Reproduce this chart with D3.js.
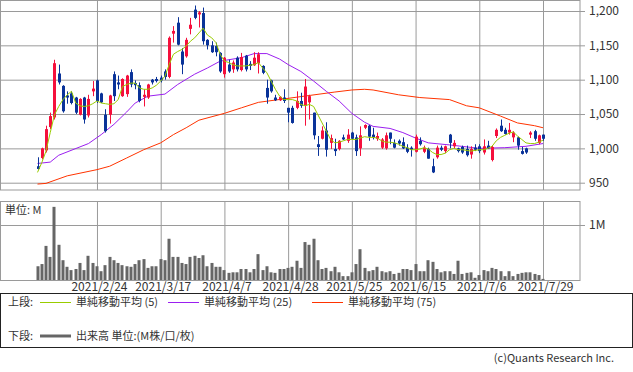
<!DOCTYPE html>
<html>
<head>
<meta charset="utf-8">
<title>chart</title>
<style>
body{margin:0;background:#fff;}
svg{display:block;}
text{font-family:"Noto Sans CJK JP","Liberation Sans",sans-serif;fill:#333;}
</style>
</head>
<body>
<svg id="chart" width="633" height="372"></svg>
<script src="https://cdnjs.cloudflare.com/ajax/libs/d3/7.8.5/d3.min.js"></script>
<script>
// x axis: bar index 0..119 (2021/2/2 - 2021/7/29), labels every 15 bars
var tickIdx = [14, 29, 44, 59, 74, 89, 104, 119];
var tickLabels = ["2021/2/24","2021/3/17","2021/4/7","2021/4/28","2021/5/25","2021/6/15","2021/7/6","2021/7/29"];
var priceTicks = [950, 1000, 1050, 1100, 1150, 1200];

var open  = [974,986,997,1031,1045,1109,1091,1077,1080,1074,1049,1074,1048,1083,1099,1080,1049,1049,1108,1096,
             1076,1079,1111,1095,1092,1075,1074,1100,1101,1103,1112,1104,1167,1183,1141,1134,1174,1202,1195,1197,
             1158,1150,1149,1139,1108,1122,1115,1132,1114,1135,1123,1121,1124,1120,1088,1099,1074,1070,1074,1059,
             1059,1059,1069,1062,1067,1052,1006,1014,1026,1008,999,999,1016,1011,1023,1016,1000,1030,1033,1020,
             1014,1001,1000,1023,1008,1011,1009,1001,1001,995,1011,995,999,974,987,1001,996,1020,1003,1000,
             1002,999,991,1001,1003,994,1004,983,1018,1033,1027,1023,1016,1016,996,1000,1020,1025,1008,1020];
var high  = [987,1001,1033,1052,1129,1122,1092,1083,1083,1075,1073,1075,1078,1098,1100,1081,1057,1078,1112,1106,
             1102,1107,1115,1099,1096,1086,1094,1101,1104,1106,1115,1163,1178,1191,1146,1161,1190,1208,1200,1205,
             1159,1156,1154,1140,1133,1129,1128,1134,1139,1136,1127,1140,1140,1121,1100,1100,1078,1076,1086,1059,
             1062,1083,1081,1101,1078,1052,1018,1032,1038,1020,1014,1012,1020,1028,1024,1020,1032,1035,1034,1030,
             1023,1015,1023,1023,1013,1013,1016,1006,1003,1020,1016,1004,1001,985,1004,1004,1004,1021,1012,1001,
             1004,1004,1003,1006,1006,1013,1011,1004,1029,1042,1030,1037,1025,1017,1002,1001,1025,1027,1020,1020];
var low   = [969,984,994,1028,1042,1093,1052,1065,1064,1050,1048,1036,1045,1076,1066,1066,1023,1036,1069,1086,
             1075,1075,1089,1086,1067,1061,1072,1093,1096,1096,1100,1102,1154,1150,1108,1132,1166,1188,1176,1151,
             1144,1139,1134,1110,1103,1110,1110,1112,1112,1112,1114,1120,1109,1108,1065,1081,1069,1069,1066,1038,
             1036,1057,1059,1033,1042,1013,989,1013,988,999,989,997,1012,1008,1013,989,989,1028,1011,1013,
             1011,999,998,1006,1000,1004,999,993,988,994,1004,993,985,964,985,996,993,1000,1000,994,
             992,988,985,996,993,991,999,981,1015,1024,1020,1020,1009,998,991,992,1015,1011,1006,1011];
var close = [970,1000,1028,1047,1124,1096,1054,1074,1066,1052,1072,1042,1072,1087,1069,1067,1025,1077,1076,1093,
             1101,1106,1093,1092,1069,1078,1093,1096,1098,1099,1104,1161,1171,1151,1122,1158,1180,1190,1198,1156,
             1150,1140,1140,1112,1132,1112,1125,1115,1133,1115,1120,1132,1137,1110,1074,1083,1070,1075,1069,1052,
             1037,1069,1062,1090,1076,1019,1002,1026,998,1015,996,1011,1013,1020,1014,996,1019,1034,1017,1016,
             1018,1013,1019,1014,1001,1007,1000,995,998,1017,1006,1001,985,965,1001,998,1003,1008,1008,996,
             994,990,999,998,996,1003,1000,1002,1027,1025,1021,1027,1023,1004,992,994,1023,1014,1019,1014];
// volume, millions
var volume = [0.25,0.29,0.62,0.42,1.33,0.64,0.36,0.24,0.18,0.20,0.31,0.18,0.44,0.31,0.25,0.16,0.27,0.42,0.36,0.31,
              0.27,0.25,0.24,0.29,0.36,0.38,0.22,0.25,0.25,0.38,0.36,0.75,0.42,0.42,0.31,0.29,0.42,0.44,0.40,0.45,
              0.25,0.31,0.24,0.24,0.18,0.13,0.14,0.14,0.20,0.20,0.14,0.20,0.47,0.18,0.25,0.14,0.13,0.20,0.20,0.22,
              0.24,0.35,0.22,0.69,0.64,0.75,0.36,0.20,0.22,0.16,0.24,0.14,0.07,0.07,0.14,0.29,0.56,0.22,0.16,0.18,
              0.24,0.16,0.14,0.16,0.11,0.13,0.20,0.20,0.18,0.29,0.16,0.16,0.36,0.33,0.20,0.14,0.16,0.16,0.11,0.35,
              0.11,0.13,0.14,0.04,0.09,0.18,0.16,0.22,0.20,0.16,0.07,0.16,0.07,0.11,0.13,0.14,0.14,0.11,0.09,0.02];
var ma5 = [965,979,996,1023,1049,1061,1071,1078,1083,1066,1062,1061,1062,1065,1069,1066,1065,1064,1065,1071,
           1090,1093,1095,1095,1088,1086,1086,1088,1092,1098,1105,1122,1137,1141,1144,1149,1156,1161,1168,1175,
           1165,1161,1154,1137,1127,1125,1122,1120,1120,1120,1121,1122,1125,1117,1110,1098,1086,1076,1071,1071,
           1071,1069,1064,1062,1064,1061,1049,1037,1025,1013,1008,1009,1011,1013,1013,1013,1015,1017,1016,1016,
           1015,1011,1009,1009,1008,1006,1003,1001,998,998,999,1001,999,994,991,991,993,998,1000,998,
           998,997,996,997,998,998,1000,1003,1011,1016,1019,1022,1024,1018,1013,1008,1007,1007,1009,1012];
var ma25Idx = [0,3,5,12,15,18,21,23,26,30,33,37,40,43,48,51,54,57,59,62,65,68,71,74,77,79,83,86,89,92,97,104,110,115,119];
var ma25Val = [978,980,990,1007,1020,1035,1053,1066,1076,1079,1093,1108,1117,1127,1132,1138,1138,1130,1122,1112,
               1098,1083,1069,1051,1038,1032,1029,1023,1015,1008,1005,1000,1001,1003,1007];
var ma75Idx = [0,2,7,14,17,21,25,29,32,35,38,44,48,52,58,64,70,74,77,79,85,90,97,101,104,109,113,117,119];
var ma75Val = [948,949,960,969,974,986,998,1008,1020,1030,1041,1051,1059,1067,1072,1077,1082,1085,1086,1085,
               1078,1074,1071,1062,1059,1047,1037,1033,1030];

var upColor = "#f5103c", downColor = "#0a3399", gridColor = "#9a9a9a";
var plotR = 580, pTop = 0, pBot = 190, vTop = 201, vBot = 280;

var svg = d3.select("#chart");
var x = d3.scaleLinear().domain([0, 119]).range([37.5, 543]);
var y = d3.scaleLinear().domain([950, 1200]).range([182.7, 11]);
var v = d3.scaleLinear().domain([0, 1]).range([vBot, 225]);

function clean(g){ g.select(".domain").remove(); g.selectAll("line").attr("stroke", gridColor); }

// grid, price panel
svg.append("g").attr("transform","translate("+plotR+",0)")
  .call(d3.axisLeft(y).tickValues(priceTicks).tickSize(plotR).tickFormat(""))
  .call(clean);
svg.append("g").attr("transform","translate(0,"+pTop+")")
  .call(d3.axisBottom(x).tickValues(tickIdx).tickSize(pBot - pTop).tickFormat(""))
  .call(clean);
svg.append("rect").attr("x",0.5).attr("y",0.5).attr("width",plotR-0.5).attr("height",pBot-0.5)
  .attr("fill","none").attr("stroke",gridColor);
svg.append("g").attr("transform","translate("+plotR+",0)")
  .call(d3.axisRight(y).tickValues(priceTicks).tickSize(5).tickPadding(4).tickFormat(d3.format(",")))
  .call(clean)
  .selectAll("text").style("font-size","12px").attr("fill","#333");

// grid, volume panel
svg.append("g").attr("transform","translate("+plotR+",0)")
  .call(d3.axisLeft(v).tickValues([1]).tickSize(plotR).tickFormat(""))
  .call(clean);
svg.append("g").attr("transform","translate(0,"+vTop+")")
  .call(d3.axisBottom(x).tickValues(tickIdx).tickSize(vBot - vTop).tickFormat(""))
  .call(clean);
svg.append("rect").attr("x",0.5).attr("y",vTop+0.5).attr("width",plotR-0.5).attr("height",vBot-vTop)
  .attr("fill","none").attr("stroke",gridColor);
svg.append("g").attr("transform","translate("+plotR+",0)")
  .call(d3.axisRight(v).tickValues([1]).tickSize(5).tickPadding(4).tickFormat(function(){ return "1M"; }))
  .call(clean)
  .selectAll("text").style("font-size","12px").attr("fill","#333");
svg.append("text").attr("x",5).attr("y",214).style("font-size","11px").text("単位: M");

// date labels
svg.append("g").attr("transform","translate(2,"+vBot+")")
  .call(d3.axisBottom(x).tickValues(tickIdx).tickSize(0).tickPadding(2).tickFormat(function(d,i){ return tickLabels[i]; }))
  .call(clean)
  .selectAll("text").style("font-size","12px").attr("fill","#333");

// volume bars
svg.append("g").selectAll("rect").data(volume).join("rect")
  .attr("x", function(d,i){ return Math.round(x(i)) - 1.5; })
  .attr("y", function(d){ return v(d); })
  .attr("width", 3)
  .attr("height", function(d){ return vBot - v(d); })
  .attr("fill", "#666");

// moving averages
var ma25 = ma25Idx.map(function(d,i){ return [d, ma25Val[i]]; });
var ma75 = ma75Idx.map(function(d,i){ return [d, ma75Val[i]]; });
var line = d3.line().x(function(d){ return x(d[0]); }).y(function(d){ return y(d[1]); });
svg.append("path").datum(ma75).attr("d", line).attr("fill","none").attr("stroke","#ff3300").attr("stroke-width",1);
svg.append("path").datum(ma25).attr("d", line).attr("fill","none").attr("stroke","#9b1ff0").attr("stroke-width",1);

// candles
var candles = svg.append("g").selectAll("g").data(open).join("g");
candles.append("line")
  .attr("x1", function(d,i){ return Math.round(x(i)) + 0.5; })
  .attr("x2", function(d,i){ return Math.round(x(i)) + 0.5; })
  .attr("y1", function(d,i){ return y(high[i]); })
  .attr("y2", function(d,i){ return y(low[i]); })
  .attr("stroke", function(d,i){ return close[i] >= open[i] ? upColor : downColor; });
candles.append("rect")
  .attr("x", function(d,i){ return Math.round(x(i)) - 1; })
  .attr("y", function(d,i){ return y(Math.max(open[i], close[i])); })
  .attr("width", 3)
  .attr("height", function(d,i){ return Math.max(2, Math.abs(y(open[i]) - y(close[i]))); })
  .attr("fill", function(d,i){ return close[i] >= open[i] ? upColor : downColor; });

svg.append("path").datum(ma5.map(function(d,i){ return [i, d]; })).attr("d", line)
  .attr("fill","none").attr("stroke","#99cc00").attr("stroke-width",1);

// legend
var lg = svg.append("g");
lg.append("rect").attr("x",0.5).attr("y",293.5).attr("width",632).attr("height",54)
  .attr("fill","none").attr("stroke","#222");
var row1 = [
  {x: 40, color: "#99cc00", label: "単純移動平均 (5)"},
  {x: 168, color: "#9b1ff0", label: "単純移動平均 (25)"},
  {x: 312, color: "#ff3300", label: "単純移動平均 (75)"}
];
lg.append("text").attr("x",8).attr("y",306).style("font-size","11px").text("上段:");
row1.forEach(function(d){
  lg.append("line").attr("x1",d.x).attr("x2",d.x+31).attr("y1",302.5).attr("y2",302.5).attr("stroke",d.color);
  lg.append("text").attr("x",d.x+36).attr("y",306).style("font-size","11px").text(d.label);
});
lg.append("text").attr("x",8).attr("y",340).style("font-size","11px").text("下段:");
lg.append("line").attr("x1",40).attr("x2",71).attr("y1",336).attr("y2",336).attr("stroke","#666").attr("stroke-width",3);
lg.append("text").attr("x",76).attr("y",340).style("font-size","11px").text("出来高 単位:(M株/口/枚)");

svg.append("text").attr("x",614).attr("y",362).attr("text-anchor","end")
  .style("font-size","11px").attr("fill","#666").text("(c)Quants Research Inc.");
</script>
</body>
</html>
